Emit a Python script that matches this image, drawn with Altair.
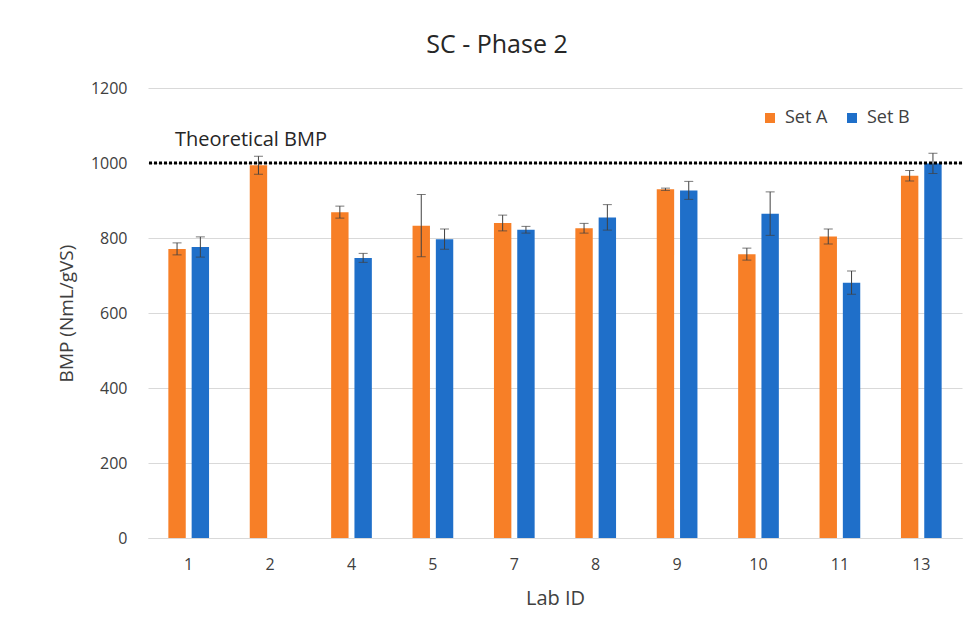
import altair as alt
import pandas as pd

labs = ["1", "2", "4", "5", "7", "8", "9", "10", "11", "13"]
set_a = [771, 994, 869, 833, 840, 826, 930, 757, 804, 966]
set_a_err = [16, 24, 16, 83, 21, 13, 3, 16, 20, 14]
set_b = [776, None, 747, 797, 822, 855, 927, 865, 681, 999]
set_b_err = [27, None, 12, 27, 9, 34, 24, 58, 31, 27]
series = ["Set A", "Set B"]
colors = ["#F77F27", "#1F6FC9"]
y_ticks = [0, 200, 400, 600, 800, 1000, 1200]
theoretical_bmp = 1000

rows = []
for lab, a, ae, b, be in zip(labs, set_a, set_a_err, set_b, set_b_err):
    rows.append({"lab": lab, "set": "Set A", "value": a, "lo": a - ae, "hi": a + ae})
    if b is not None:
        rows.append({"lab": lab, "set": "Set B", "value": b, "lo": b - be, "hi": b + be})
df = pd.DataFrame(rows)

FONT = "Open Sans"
GRAY = "#404040"

x_enc = alt.X(
    "lab:N",
    sort=labs,
    scale=alt.Scale(paddingInner=0.5, paddingOuter=0.25),
    axis=alt.Axis(
        title="Lab ID", labelAngle=0, ticks=False, domainColor="#D9D9D9",
        labelPadding=18, labelFontSize=16, titleFontSize=20, titlePadding=16,
        titleFontWeight="normal", labelColor=GRAY, titleColor=GRAY, grid=False,
    ),
)
xoff_enc = alt.XOffset("set:N", scale=alt.Scale(domain=series, paddingInner=0.253))
y_scale = alt.Scale(domain=[0, 1200])

base = alt.Chart(df)

bars = base.mark_bar().encode(
    x=x_enc,
    xOffset=xoff_enc,
    y=alt.Y(
        "value:Q",
        scale=y_scale,
        axis=alt.Axis(
            title="BMP (NmL/gVS)", values=y_ticks, format="d", domain=False, ticks=False,
            gridColor="#D9D9D9", labelPadding=21, labelFontSize=16,
            titleFontSize=19, titlePadding=14, titleFontWeight="normal",
            labelColor=GRAY, titleColor=GRAY,
        ),
    ),
    color=alt.Color(
        "set:N",
        scale=alt.Scale(domain=series, range=colors),
        legend=alt.Legend(
            title=None, orient="none", legendX=613, legendY=21,
            direction="horizontal", symbolType="square", symbolSize=100,
            symbolStrokeWidth=0, labelFontSize=18, labelOffset=6,
            columnPadding=15, labelColor=GRAY,
        ),
    ),
)

err = base.mark_rule(color=GRAY, strokeWidth=1).encode(
    x=x_enc, xOffset=xoff_enc, y=alt.Y("lo:Q", scale=y_scale), y2="hi:Q"
)
cap_hi = base.mark_tick(color=GRAY, size=9, thickness=1, orient="horizontal").encode(
    x=x_enc, xOffset=xoff_enc, y=alt.Y("hi:Q", scale=y_scale)
)
cap_lo = base.mark_tick(color=GRAY, size=9, thickness=1, orient="horizontal").encode(
    x=x_enc, xOffset=xoff_enc, y=alt.Y("lo:Q", scale=y_scale)
)

theo_df = pd.DataFrame({"y": [theoretical_bmp], "label": ["Theoretical BMP"]})
theo_line = alt.Chart(theo_df).mark_rule(
    color="black", strokeWidth=3, strokeDash=[3, 2]
).encode(y=alt.Y("y:Q", scale=y_scale))
theo_text = alt.Chart(theo_df).mark_text(
    align="left", baseline="alphabetic", fontSize=20, dy=-17, color="#262626", font=FONT
).encode(x=alt.value(27), y=alt.Y("y:Q", scale=y_scale), text="label:N")

chart = (
    alt.layer(bars, err, cap_hi, cap_lo, theo_line, theo_text)
    .properties(
        width=814,
        height=450,
        autosize=alt.AutoSizeParams(type="none"),
        padding={"left": 140, "top": 80, "right": 6, "bottom": 91},
        title=alt.TitleParams(
            "SC - Phase 2", fontSize=25, fontWeight="normal", color="#262626",
            anchor="middle", frame="group", dx=-58, offset=2, baseline="alphabetic",
            font=FONT,
        ),
    )
    .configure(font=FONT)
    .configure_view(stroke=None)
)

chart.save("out.html", embed_options={"renderer": "svg", "actions": False})
